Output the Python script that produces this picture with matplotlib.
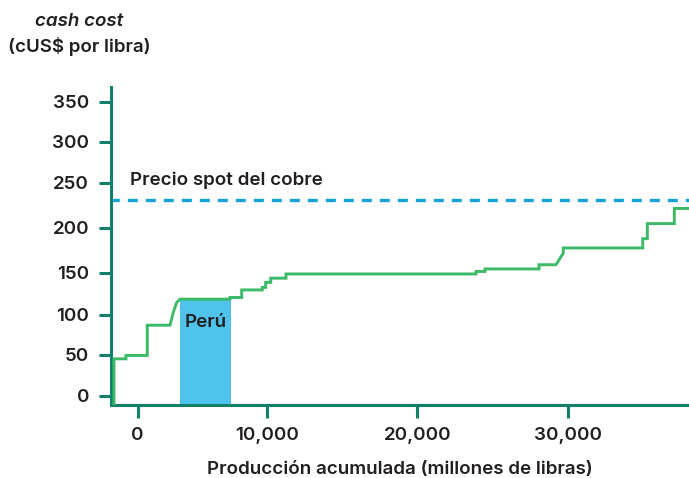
import matplotlib
matplotlib.use("Agg")
import matplotlib.pyplot as plt

# cumulative production (millions of lb) and cash cost (cUS$/lb) at curve vertices
prod = [-180, -180, 619, 619, 2036, 2036, 3546, 3780, 3990, 4212, 7538, 7538,
        8317, 8317, 9687, 9687, 9913, 9913, 10246, 10246, 11264, 11264, 23906, 23906,
        24504, 24504, 28097, 28097, 29228, 29714, 29714, 34997, 34997,
        35303, 35303, 37099, 37099, 38200]
cost = [-11, 44, 44, 48, 48, 84, 84, 100, 111, 115, 115, 117,
        117, 126, 126, 129, 129, 135, 135, 140, 140, 145, 145, 148,
        148, 151, 151, 156, 156, 170, 176, 176, 187,
        187, 205, 205, 223, 223]

peru_start, peru_end, peru_cost = 4212, 7585, 115
spot_price = 233

# tick positions as they sit in the source graphic
ytick_pos = [0, 48.8, 96.3, 146.7, 200.1, 253.7, 302.4, 350]
yticklabels = ["0", "50", "100", "150", "200", "250", "300", "350"]
xtick_pos = [1390, 10000, 20000, 30000]
xticklabels = ["0", "10,000", "20,000", "30,000"]

spine_c = "#13806c"
text_c = "#231f20"
plt.rcParams["font.family"] = ["Inter", "DejaVu Sans"]
fs = 13.5

fig = plt.figure(figsize=(6.89, 4.78), dpi=100)
ax = fig.add_axes([0.1615, 0.1527, 0.8385, 0.666])

ybot = -11
ax.bar(peru_start, peru_cost - ybot, width=peru_end - peru_start, bottom=ybot,
       align="edge", color="#4fc3ec", zorder=1)
ax.plot(prod, cost, color="#3dba67", lw=2.1, zorder=3, solid_joinstyle="miter")
ax.axhline(spot_price, color="#14a4d8", lw=2.4, ls=(0.5, (3, 2.4)), zorder=2)

ax.text(885, 246, "Precio spot del cobre", fontsize=fs, fontweight="semibold",
        color=text_c, va="bottom", ha="left")
ax.text((peru_start + peru_end) / 2, 87, "Perú", fontsize=fs, fontweight="semibold",
        color=text_c, ha="center", va="center")

ax.set_xlim(-359, 38075)
ax.set_ylim(ybot, 368)
ax.set_xticks(xtick_pos)
ax.set_xticklabels(xticklabels)
ax.set_yticks(ytick_pos)
ax.set_yticklabels(yticklabels)

for s in ["top", "right"]:
    ax.spines[s].set_visible(False)
for s in ["left", "bottom"]:
    ax.spines[s].set_color(spine_c)
    ax.spines[s].set_linewidth(2.2)
ax.tick_params(axis="both", colors=spine_c, length=9, width=2.2, labelcolor=text_c,
               labelsize=fs, pad=7)
for lab in ax.get_xticklabels() + ax.get_yticklabels():
    lab.set_fontweight("semibold")

ax.set_xlabel("Producción acumulada (millones de libras)", fontsize=fs,
              fontweight="semibold", color=text_c, labelpad=12)

fig.text(0.115, 0.955, "cash cost", fontsize=fs, fontstyle="italic",
         fontweight="semibold", color=text_c, ha="center", va="center")
fig.text(0.115, 0.903, "(cUS$ por libra)", fontsize=fs, fontweight="semibold",
         color=text_c, ha="center", va="center")

fig.savefig("out.png", dpi=100)
